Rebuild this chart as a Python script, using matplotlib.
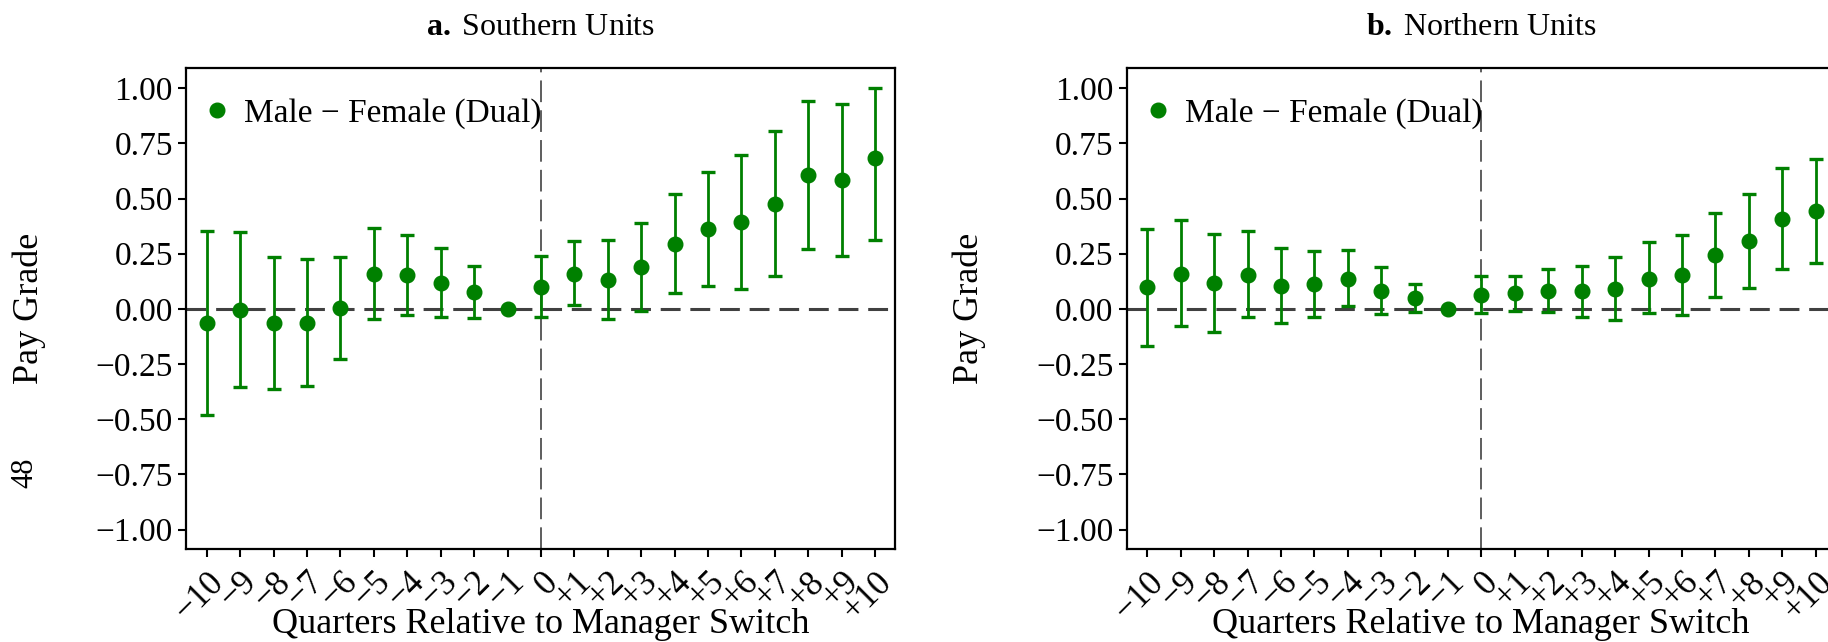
import numpy as np
import matplotlib.pyplot as plt

plt.rcParams['font.family'] = ['Liberation Serif', 'DejaVu Serif']
plt.rcParams['mathtext.fontset'] = 'custom'
plt.rcParams['mathtext.rm'] = 'Liberation Serif'
plt.rcParams['mathtext.bf'] = 'Liberation Serif:bold'

# quarters relative to the manager switch
quarters = np.arange(-10, 11)
tick_labels = ['\u2212%d' % -q if q < 0 else ('0' if q == 0 else '+%d' % q)
               for q in quarters]
y_ticks = [-1.0, -0.75, -0.5, -0.25, 0.0, 0.25, 0.5, 0.75, 1.0]
y_tick_labels = ['\u22121.00', '\u22120.75', '\u22120.50', '\u22120.25',
                 '0.00', '0.25', '0.50', '0.75', '1.00']

# panel a: southern units
south_est = [-0.065, -0.005, -0.065, -0.062, 0.005, 0.16, 0.153, 0.116, 0.076, 0.0,
             0.101, 0.159, 0.131, 0.192, 0.296, 0.361, 0.393, 0.474, 0.605, 0.585, 0.685]
south_lo = [-0.48, -0.355, -0.364, -0.349, -0.227, -0.047, -0.027, -0.039, -0.042, 0.0,
            -0.038, 0.017, -0.044, -0.008, 0.071, 0.103, 0.089, 0.147, 0.27, 0.24, 0.31]
south_hi = [0.353, 0.347, 0.236, 0.227, 0.236, 0.366, 0.334, 0.275, 0.196, 0.0,
            0.24, 0.307, 0.311, 0.387, 0.521, 0.619, 0.696, 0.805, 0.94, 0.93, 1.0]

# panel b: northern units
north_est = [0.098, 0.16, 0.116, 0.154, 0.104, 0.113, 0.137, 0.083, 0.051, 0.0,
             0.065, 0.071, 0.083, 0.08, 0.092, 0.137, 0.153, 0.242, 0.307, 0.408, 0.443]
north_lo = [-0.166, -0.077, -0.106, -0.039, -0.065, -0.035, 0.015, -0.021, -0.012, 0.0,
            -0.02, -0.01, -0.015, -0.036, -0.05, -0.02, -0.029, 0.056, 0.095, 0.181, 0.208]
north_hi = [0.36, 0.402, 0.341, 0.352, 0.275, 0.264, 0.266, 0.189, 0.115, 0.0,
            0.15, 0.15, 0.183, 0.196, 0.233, 0.304, 0.334, 0.434, 0.521, 0.637, 0.678]

panels = [
    (r'$\mathbf{a.}\,$Southern Units', south_est, south_lo, south_hi),
    (r'$\mathbf{b.}\,$Northern Units', north_est, north_lo, north_hi),
]

fig = plt.figure(figsize=(18.28, 6.42), dpi=100)
lefts = [0.1018, 0.6163]   # right panel runs past the page edge, as in the scan

for left, (title, est, lo, hi) in zip(lefts, panels):
    ax = fig.add_axes([left, 0.1449, 0.3879, 0.7493])
    est = np.array(est)
    yerr = [est - np.array(lo), np.array(hi) - est]

    ax.axhline(0, color='#404040', lw=2.2, dashes=(6.5, 3.2), zorder=1)
    ax.axvline(0, color='#505050', lw=1.3, dashes=(12, 4.5), zorder=1)
    eb = ax.errorbar(quarters, est, yerr=yerr, fmt='o', color='green', ms=10.5,
                     elinewidth=2.0, capsize=5, capthick=2.4, zorder=3)

    ax.set_xlim(-10.62, 10.6)
    ax.set_ylim(-1.088, 1.092)
    ax.set_xticks(quarters)
    ax.set_xticklabels(tick_labels, rotation=45, ha='right', rotation_mode='anchor')
    ax.set_yticks(y_ticks)
    ax.set_yticklabels(y_tick_labels)
    ax.tick_params(labelsize=24, length=6, width=1.5, direction='out')
    ax.tick_params(axis='x', labelsize=25, pad=6)

    for s in ['left', 'bottom', 'top', 'right']:
        ax.spines[s].set_linewidth(1.6)

    ax.set_title(title, fontsize=23, pad=24)
    ax.set_ylabel('Pay Grade', fontsize=26)
    ax.yaxis.set_label_coords(-0.198, 0.5)
    ax.set_xlabel('Quarters Relative to Manager Switch', fontsize=26)
    ax.xaxis.set_label_coords(0.5, -0.122)

    ax.legend([eb[0]], ['Male \u2212 Female (Dual)'], loc='upper left',
              bbox_to_anchor=(0, 0.968), frameon=False, fontsize=24,
              handlelength=1.0, handletextpad=0.3, borderaxespad=0,
              borderpad=0.44, numpoints=1)

fig.text(0.0137, 0.263, '48', rotation=90, fontsize=22, ha='center', va='center')

fig.savefig('out.png', dpi=100)
